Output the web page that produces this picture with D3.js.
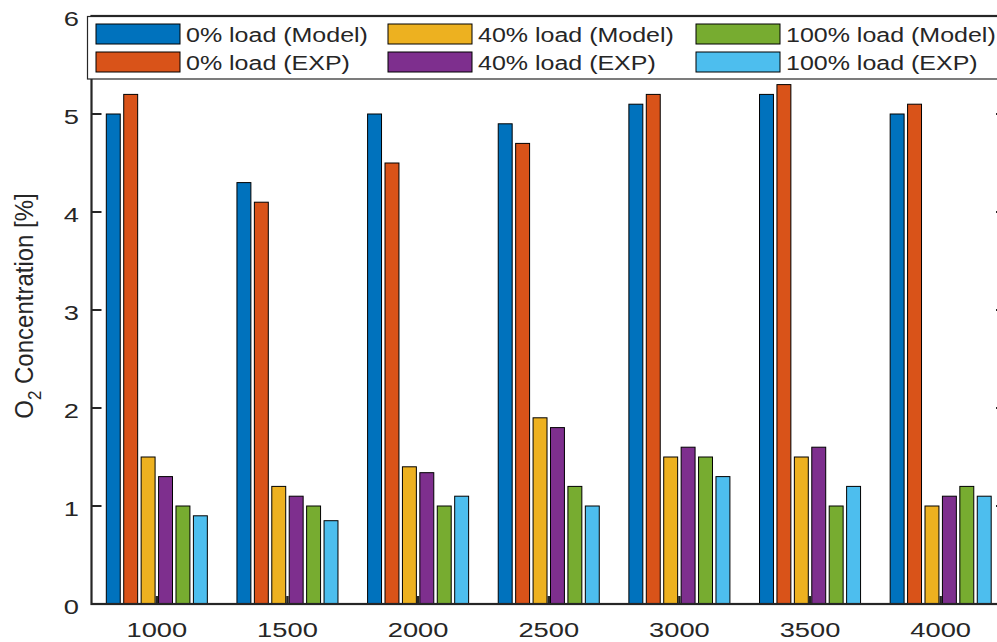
<!DOCTYPE html>
<html>
<head>
<meta charset="utf-8">
<script src="https://cdn.jsdelivr.net/npm/d3@7/dist/d3.min.js"></script>
<style>
  html, body { margin: 0; padding: 0; background: #fff; }
  #chart { width: 997px; height: 642px; overflow: hidden; }
</style>
</head>
<body>
<div id="chart"></div>
<script>
var categories = ["1000", "1500", "2000", "2500", "3000", "3500", "4000"];
var seriesNames = [
  "0% load (Model)", "0% load (EXP)",
  "40% load (Model)", "40% load (EXP)",
  "100% load (Model)", "100% load (EXP)"
];
var load0Model   = [5.0, 4.3, 5.0, 4.9, 5.1, 5.2, 5.0];
var load0Exp     = [5.2, 4.1, 4.5, 4.7, 5.2, 5.3, 5.1];
var load40Model  = [1.5, 1.2, 1.4, 1.9, 1.5, 1.5, 1.0];
var load40Exp    = [1.3, 1.1, 1.34, 1.8, 1.6, 1.6, 1.1];
var load100Model = [1.0, 1.0, 1.0, 1.2, 1.5, 1.0, 1.2];
var load100Exp   = [0.9, 0.85, 1.1, 1.0, 1.3, 1.2, 1.1];
var yTicks = [0, 1, 2, 3, 4, 5, 6];

(function () {
  "use strict";

  var COLORS = ["#0072BD", "#D95319", "#EDB120", "#7E2F8E", "#77AC30", "#4DBEEE"];
  var AXIS   = "#262626";
  var FONT   = "'Liberation Sans', Arial, sans-serif";

  var series = [load0Model, load0Exp, load40Model, load40Exp, load100Model, load100Exp];

  var W = 997, H = 642;
  var left = 91.5, right = 1006, top = 16, bottom = 604;

  var svg = d3.select("#chart").append("svg")
    .attr("width", W).attr("height", H)
    .style("font-family", FONT);

  var x0 = d3.scaleBand()
    .domain(categories)
    .range([left, right])
    .paddingInner(0.2)
    .paddingOuter(0.1);

  var x1 = d3.scaleBand()
    .domain(d3.range(series.length))
    .range([0, x0.bandwidth()])
    .paddingInner(0.2)
    .paddingOuter(0.1);

  var y = d3.scaleLinear().domain([0, 6]).range([bottom, top]);

  // bars
  categories.forEach(function (c, ci) {
    var g = svg.append("g").attr("transform", "translate(" + x0(c) + ",0)");
    series.forEach(function (vals, si) {
      g.append("rect")
        .attr("x", x1(si))
        .attr("y", y(vals[ci]))
        .attr("width", x1.bandwidth())
        .attr("height", y(0) - y(vals[ci]))
        .attr("fill", COLORS[si])
        .attr("stroke", "#000")
        .attr("stroke-width", 1);
    });
  });

  // box
  svg.append("rect")
    .attr("x", left).attr("y", top)
    .attr("width", right - left).attr("height", bottom - top)
    .attr("fill", "none")
    .attr("stroke", AXIS)
    .attr("stroke-width", 2.2);

  // y ticks (both sides, inward)
  yTicks.forEach(function (t) {
    var yy = Math.round(y(t));
    svg.append("line")
      .attr("x1", left).attr("x2", left + 10)
      .attr("y1", yy).attr("y2", yy)
      .attr("stroke", AXIS).attr("stroke-width", 2);
    svg.append("line")
      .attr("x1", right).attr("x2", right - 10)
      .attr("y1", yy).attr("y2", yy)
      .attr("stroke", AXIS).attr("stroke-width", 2);
    svg.append("text")
      .attr("transform", "translate(79," + (yy + 10) + ") scale(1.3,1)")
      .attr("text-anchor", "end")
      .attr("font-size", "21px")
      .attr("fill", AXIS)
      .text(t);
  });

  // x ticks (top and bottom, inward)
  categories.forEach(function (c) {
    var xx = x0(c) + x0.bandwidth() / 2;
    svg.append("line")
      .attr("x1", xx).attr("x2", xx)
      .attr("y1", bottom).attr("y2", bottom - 8)
      .attr("stroke", AXIS).attr("stroke-width", 2.5);
    svg.append("line")
      .attr("x1", xx).attr("x2", xx)
      .attr("y1", top).attr("y2", top + 8)
      .attr("stroke", AXIS).attr("stroke-width", 2.5);
    svg.append("text")
      .attr("transform", "translate(" + xx + ",637) scale(1.3,1)")
      .attr("text-anchor", "middle")
      .attr("font-size", "21px")
      .attr("fill", AXIS)
      .text(c);
  });

  // y label
  var yl = svg.append("text")
    .attr("transform", "translate(33,306) scale(1.1,1) rotate(-90)")
    .attr("text-anchor", "middle")
    .attr("font-size", "24px")
    .attr("fill", AXIS);
  yl.append("tspan").text("O");
  yl.append("tspan").attr("font-size", "17px").attr("dy", "7").text("2");
  yl.append("tspan").attr("dy", "-7").text(" Concentration [%]");

  // legend
  var lg = svg.append("g");
  lg.append("rect")
    .attr("x", 87.5).attr("y", 16.5)
    .attr("width", 940).attr("height", 62.5)
    .attr("fill", "#fff")
    .attr("stroke", AXIS)
    .attr("stroke-width", 1.2);

  var colX  = [96, 388, 696];
  var rowY  = [24, 52];
  seriesNames.forEach(function (name, i) {
    var col = Math.floor(i / 2), row = i % 2;
    lg.append("rect")
      .attr("x", colX[col]).attr("y", rowY[row])
      .attr("width", 84).attr("height", 20)
      .attr("fill", COLORS[i])
      .attr("stroke", "#000").attr("stroke-width", 1);
    lg.append("text")
      .attr("transform", "translate(" + (colX[col] + 90) + "," + (rowY[row] + 17.5) + ") scale(1.25,1)")
      .attr("font-size", "20px")
      .attr("fill", AXIS)
      .text(name);
  });
})();
</script>
</body>
</html>
